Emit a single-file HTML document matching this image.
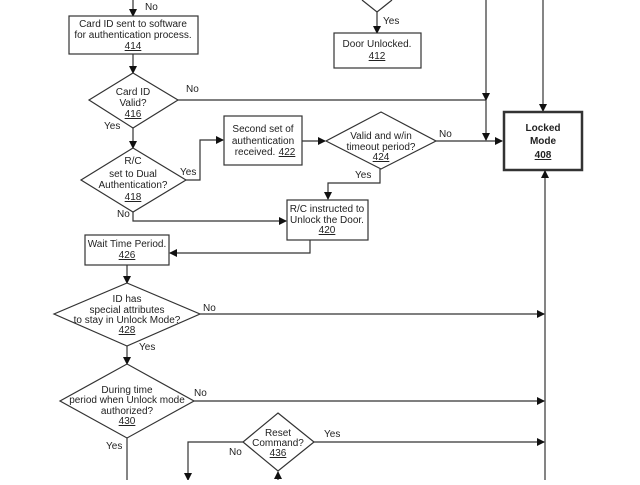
<!DOCTYPE html>
<html><head><meta charset="utf-8"><style>
html,body{margin:0;padding:0;background:#fff;}
svg text{font-family:"Liberation Sans",sans-serif;font-size:10px;fill:#222;}
</style></head><body>
<svg width="640" height="480" viewBox="0 0 640 480" xmlns="http://www.w3.org/2000/svg">
<defs><marker id="a" markerWidth="8" markerHeight="8" refX="7" refY="4" orient="auto" markerUnits="userSpaceOnUse"><path d="M0,0 L8,4 L0,8 z" fill="#111"/></marker></defs>
<g stroke="#333" stroke-width="1.2" fill="none">
<!-- top -->
<line x1="133" y1="0" x2="133" y2="16" marker-end="url(#a)"/>
<rect x="69" y="16" width="129" height="38" fill="#fff"/>
<line x1="133" y1="54" x2="133" y2="73" marker-end="url(#a)"/>
<polygon points="133,73 178,100 133,128 89,100" fill="#fff"/>
<line x1="178" y1="100" x2="486" y2="100"/>
<line x1="486" y1="0" x2="486" y2="100" marker-end="url(#a)"/>
<line x1="486" y1="100" x2="486" y2="140" marker-end="url(#a)"/>
<line x1="436" y1="141" x2="502" y2="141" marker-end="url(#a)"/>
<line x1="543" y1="0" x2="543" y2="111" marker-end="url(#a)"/>
<polyline points="362,0 377,12 392,0" fill="#fff"/>
<line x1="377" y1="12" x2="377" y2="33" marker-end="url(#a)"/>
<rect x="334" y="33" width="87" height="35" fill="#fff"/>
<rect x="504" y="112" width="78" height="58" stroke-width="2.5" fill="#fff"/>
<line x1="545" y1="480" x2="545" y2="171" marker-end="url(#a)"/>
<line x1="133" y1="128" x2="133" y2="148" marker-end="url(#a)"/>
<polygon points="133,148 186,180 133,212 81,180" fill="#fff"/>
<polyline points="186,180 200,180 200,140 223,140" marker-end="url(#a)"/>
<rect x="224" y="116" width="78" height="49" fill="#fff"/>
<line x1="302" y1="141" x2="325" y2="141" marker-end="url(#a)"/>
<polygon points="381,112 436,141 381,169 326,141" fill="#fff"/>
<polyline points="380,169 380,183 328,183 328,199" marker-end="url(#a)"/>
<rect x="287" y="200" width="81" height="40" fill="#fff"/>
<polyline points="133,212 133,221 286,221" marker-end="url(#a)"/>
<polyline points="310,240 310,253 170,253" marker-end="url(#a)"/>
<rect x="85" y="235" width="84" height="30" fill="#fff"/>
<line x1="127" y1="265" x2="127" y2="283" marker-end="url(#a)"/>
<polygon points="127,283 200,314 127,346 54,314" fill="#fff"/>
<line x1="200" y1="314" x2="544" y2="314" marker-end="url(#a)"/>
<line x1="127" y1="346" x2="127" y2="364" marker-end="url(#a)"/>
<polygon points="127,364 194,401 127,438 60,401" fill="#fff"/>
<line x1="194" y1="401" x2="544" y2="401" marker-end="url(#a)"/>
<line x1="127" y1="438" x2="127" y2="480"/>
<polygon points="278,413 314,442 278,471 243,442" fill="#fff"/>
<line x1="314" y1="442" x2="544" y2="442" marker-end="url(#a)"/>
<polyline points="243,442 188,442 188,480" marker-end="url(#a)"/>
<line x1="278" y1="480" x2="278" y2="472" marker-end="url(#a)"/>
</g>
<g text-anchor="middle">
<text x="133" y="27">Card ID sent to software</text>
<text x="133" y="38">for authentication process.</text>
<text x="133" y="49" text-decoration="underline">414</text>
<text x="133" y="95">Card ID</text><text x="133" y="106">Valid?</text><text x="133" y="117" text-decoration="underline">416</text>
<text x="133" y="164">R/C</text><text x="133" y="177">set to Dual</text><text x="133" y="188">Authentication?</text><text x="133" y="200" text-decoration="underline">418</text>
<text x="263" y="132">Second set of</text><text x="263" y="144">authentication</text><text x="255" y="155">received.</text><text x="287" y="155" text-decoration="underline">422</text>
<text x="381" y="139">Valid and w/in</text><text x="381" y="150">timeout period?</text><text x="381" y="160" text-decoration="underline">424</text>
<text x="327" y="212">R/C instructed to</text><text x="327" y="223">Unlock the Door.</text><text x="327" y="233" text-decoration="underline">420</text>
<text x="127" y="247">Wait Time Period.</text><text x="127" y="258" text-decoration="underline">426</text>
<text x="127" y="302">ID has</text><text x="127" y="313">special attributes</text><text x="127" y="323">to stay in Unlock Mode?</text><text x="127" y="333" text-decoration="underline">428</text>
<text x="127" y="393">During time</text><text x="127" y="403">period when Unlock mode</text><text x="127" y="414">authorized?</text><text x="127" y="424" text-decoration="underline">430</text>
<text x="278" y="436">Reset</text><text x="278" y="446">Command?</text><text x="278" y="456" text-decoration="underline">436</text>
<text x="377" y="47">Door Unlocked.</text><text x="377" y="59" text-decoration="underline">412</text>
<g font-weight="bold" style="font-size:11px"><text x="543" y="131">Locked</text><text x="543" y="144">Mode</text><text x="543" y="158" text-decoration="underline">408</text></g>
</g>
<text x="145" y="10">No</text>
<text x="186" y="92">No</text>
<text x="104" y="129">Yes</text>
<text x="180" y="175">Yes</text>
<text x="117" y="217">No</text>
<text x="439" y="137">No</text>
<text x="355" y="178">Yes</text>
<text x="383" y="24">Yes</text>
<text x="203" y="311">No</text>
<text x="139" y="350">Yes</text>
<text x="194" y="396">No</text>
<text x="106" y="449">Yes</text>
<text x="324" y="437">Yes</text>
<text x="229" y="455">No</text>
</svg>
</body></html>
